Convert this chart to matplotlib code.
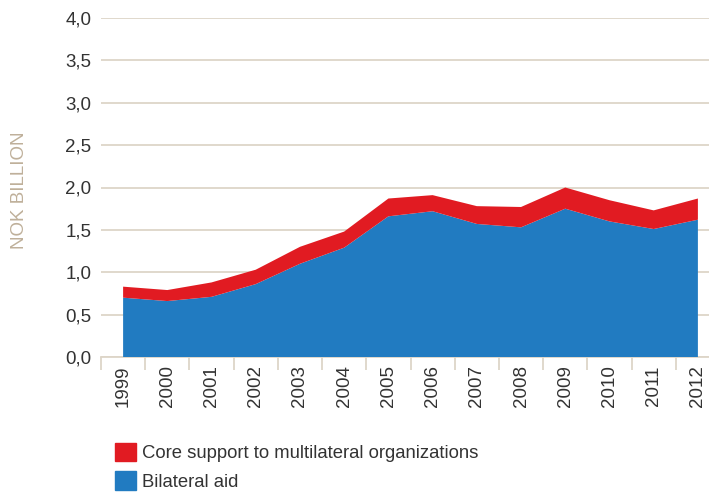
import matplotlib.pyplot as plt
from matplotlib.patches import Patch
import numpy as np

plt.rcParams['font.family'] = ['Liberation Sans', 'DejaVu Sans']

years = ['1999', '2000', '2001', '2002', '2003', '2004', '2005',
         '2006', '2007', '2008', '2009', '2010', '2011', '2012']
bilateral = [0.70, 0.66, 0.71, 0.86, 1.10, 1.29, 1.66, 1.72, 1.57, 1.53, 1.75, 1.60, 1.51, 1.62]
total = [0.83, 0.79, 0.88, 1.03, 1.30, 1.48, 1.87, 1.91, 1.78, 1.77, 2.00, 1.85, 1.73, 1.87]
core = [t - b for t, b in zip(total, bilateral)]

blue = '#217bc1'
red = '#e11b22'
beige = '#ddd5c8'

fig = plt.figure(figsize=(7.09, 4.93), dpi=100)
ax = fig.add_axes([101 / 709, 136 / 493, 619 / 709, 339 / 493])

x = np.arange(len(years))
ax.stackplot(x, bilateral, core, colors=[blue, red], linewidth=0, zorder=3)

ax.set_xlim(-0.5, len(years) - 0.5)
ax.set_ylim(0, 4)
ax.set_yticks(np.arange(0, 4.01, 0.5))
ax.set_yticklabels([f'{v:.1f}'.replace('.', ',') for v in np.arange(0, 4.01, 0.5)],
                   fontsize=13.5, color='#333333')
ax.yaxis.grid(True, color=beige, linewidth=1.3, zorder=0)
ax.tick_params(axis='y', length=0, pad=7)

ax.set_xticks(x)
ax.set_xticklabels(years, rotation=90, fontsize=13.5, color='#333333')
ax.set_xticks(np.arange(-0.5, len(years), 1), minor=True)
ax.tick_params(axis='x', which='major', length=0, pad=6)
ax.tick_params(axis='x', which='minor', length=9, color=beige, width=1.3)

for s in ['top', 'right', 'left']:
    ax.spines[s].set_visible(False)
ax.spines['bottom'].set_color(beige)
ax.spines['bottom'].set_linewidth(1.3)

fig.text(20 / 709, 1 - 190 / 493, 'NOK BILLION', rotation=90, fontsize=13.5,
         color='#bfb09a', ha='center', va='center')

handles = [Patch(color=red, label='Core support to multilateral organizations'),
           Patch(color=blue, label='Bilateral aid')]
fig.legend(handles=handles, loc='upper left', bbox_to_anchor=(98 / 709, 1 - 426 / 493),
           frameon=False, fontsize=13.3, handlelength=1.15, handleheight=1.15,
           handletextpad=0.35, labelspacing=0.5, labelcolor='#333333')

fig.savefig('out.png', dpi=100)
